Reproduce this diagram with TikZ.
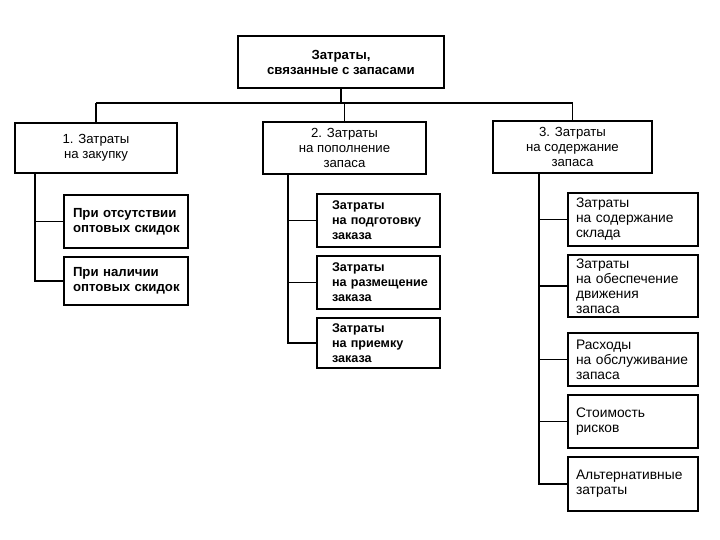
\documentclass[tikz,border=0pt]{standalone}
\usepackage{fontspec}
\setmainfont{Liberation Sans}
\begin{document}
\begin{tikzpicture}[x=1pt,y=-1pt,
  txt/.style={font=\fontsize{13.2}{15}\selectfont},
  btxt/.style={font=\fontsize{13.2}{15}\selectfont\bfseries},
  box/.style={draw, line width=1.7pt, inner sep=0pt, txt},
  head/.style={box, align=center},
  sub1/.style={box, btxt, align=left, text width=124pt, minimum height=53pt,
    execute at begin node={\leftskip=9pt\relax}},
  sub2/.style={box, font=\fontsize{12.6}{15}\selectfont\bfseries, align=left, text width=123pt, minimum height=53pt,
    execute at begin node={\leftskip=15pt\relax}},
  sub3/.style={box, font=\fontsize{13.8}{15}\selectfont, align=left, text width=130pt, minimum height=53pt,
    execute at begin node={\leftskip=8pt\relax}},
  link/.style={line width=1.5pt}]
\useasboundingbox (0,0) rectangle (720,540);
% top
\node[head, btxt, minimum width=206pt, minimum height=52pt] (top) at (341,62) {Затраты,\\связанные с запасами};
% level 1
\node[head, minimum width=162pt, minimum height=50pt] (c1) at (96,148) {1. Затраты\\на закупку};
\node[head, minimum width=163pt, minimum height=52pt] (c2) at (344.5,148) {2. Затраты\\на пополнение\\запаса};
\node[head, minimum width=159pt, minimum height=52pt] (c3) at (572.5,147) {3. Затраты\\на содержание\\запаса};
% column 1
\node[sub1] (a1) at (126,221.5) {При отсутствии\\оптовых скидок};
\node[sub1, minimum height=48pt] (a2) at (126,281) {При наличии\\оптовых скидок};
% column 2
\node[sub2] (b1) at (378.5,220.5) {Затраты\\на подготовку\\заказа};
\node[sub2] (b2) at (378.5,282.5) {Затраты\\на размещение\\заказа};
\node[sub2, minimum height=50pt] (b3) at (378.5,343) {Затраты\\на приемку\\заказа};
% column 3
\node[sub3] (d1) at (633,219.5) {Затраты\\на содержание\\склада};
\node[sub3, minimum height=62pt] (d2) at (633,286) {Затраты\\на обеспечение\\движения\\запаса};
\node[sub3] (d3) at (633,359.5) {Расходы\\на обслуживание\\запаса};
\node[sub3] (d4) at (633,421.5) {Стоимость\\рисков\\[5pt]};
\node[sub3, minimum height=54pt] (d5) at (633,484) {Альтернативные\\затраты};
% bus and trunks
\coordinate (bus) at (0,103);
\coordinate (t1) at (35,0);
\coordinate (t2) at (288,0);
\coordinate (t3) at (539,0);
\draw[link] (top.south) -- (top.south |- bus);
\draw[link] (c1.north |- bus) -- (c3.north |- bus);
\draw[link] (c1.north |- bus) -- (c1.north);
\draw[link] (c2.north |- bus) -- (c2.north);
\draw[link] (c3.north |- bus) -- (c3.north);
\draw[link] (t1 |- c1.south) -- (t1 |- a2.west) -- (a2.west);
\draw[link] (t1 |- a1.west) -- (a1.west);
\draw[link] (t2 |- c2.south) -- (t2 |- b3.west) -- (b3.west);
\draw[link] (t2 |- b1.west) -- (b1.west);
\draw[link] (t2 |- b2.west) -- (b2.west);
\draw[link] (t3 |- c3.south) -- (t3 |- d5.west) -- (d5.west);
\draw[link] (t3 |- d1.west) -- (d1.west);
\draw[link] (t3 |- d2.west) -- (d2.west);
\draw[link] (t3 |- d3.west) -- (d3.west);
\draw[link] (t3 |- d4.west) -- (d4.west);
\end{tikzpicture}
\end{document}
